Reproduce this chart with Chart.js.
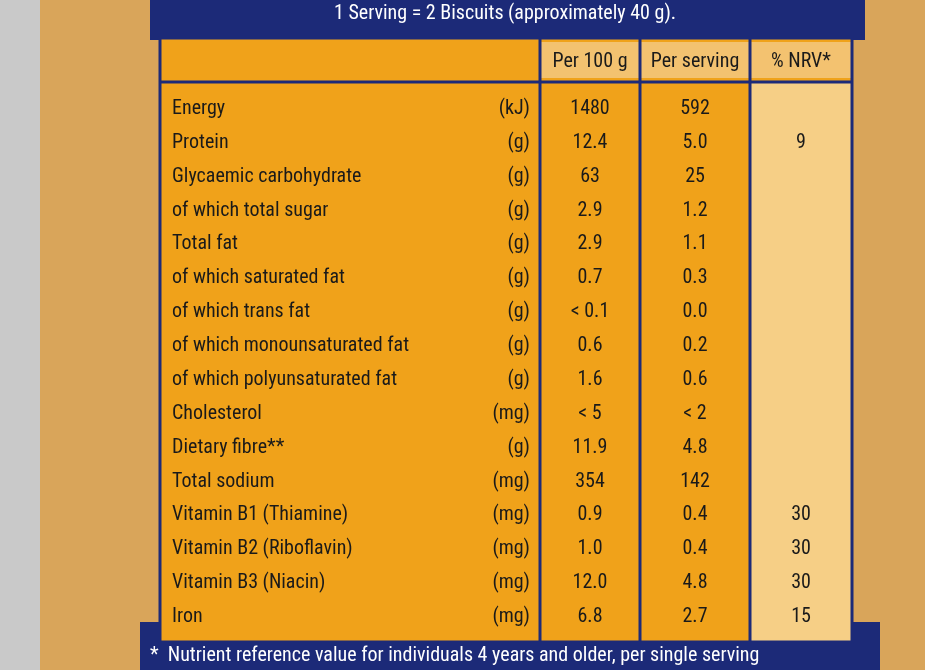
<!DOCTYPE html>
<html><head><meta charset="utf-8">
<script src="https://cdn.jsdelivr.net/npm/chart.js@4"></script>
<style>html,body{margin:0;padding:0;background:#d9a55a;}#w{width:925px;height:670px;}</style>
</head><body><div id="w"><canvas id="c" width="925" height="670"></canvas></div>
<script>
const nutrients=["Energy","Protein","Glycaemic carbohydrate","of which total sugar","Total fat","of which saturated fat","of which trans fat","of which monounsaturated fat","of which polyunsaturated fat","Cholesterol","Dietary fibre**","Total sodium","Vitamin B1 (Thiamine)","Vitamin B2 (Riboflavin)","Vitamin B3 (Niacin)","Iron"];
const units=["(kJ)","(g)","(g)","(g)","(g)","(g)","(g)","(g)","(g)","(mg)","(g)","(mg)","(mg)","(mg)","(mg)","(mg)"];
const per100=["1480","12.4","63","2.9","2.9","0.7","< 0.1","0.6","1.6","< 5","11.9","354","0.9","1.0","12.0","6.8"];
const perServing=["592","5.0","25","1.2","1.1","0.3","0.0","0.2","0.6","< 2","4.8","142","0.4","0.4","4.8","2.7"];
const nrv=["","9","","","","","","","","","","","30","30","30","15"];
const headers=["Per 100 g","Per serving","% NRV*"];
const title="1 Serving = 2 Biscuits (approximately 40 g).";
const footnote="*  Nutrient reference value for individuals 4 years and older, per single serving";
const F='"Liberation Sans Narrow","Roboto Condensed",Roboto,sans-serif';
const NAVY='#1c2a78', OR='#f0a21a', LIGHT='#f6cf86';
const X={left:160,c1:540,c2:640,c3:750,right:852};
const tablePlugin={id:'tbl',beforeDraw(ch){
 const c=ch.ctx, ys=ch.scales.y, h=ys.getPixelForValue(1)-ys.getPixelForValue(0);
 const top=ys.getPixelForValue(0)-h/2-10, bot=ys.getPixelForValue(nutrients.length-1)+h/2+8;
 c.save();
 c.fillStyle='#d9a55a';c.fillRect(0,0,925,670);
 c.fillStyle='#c9c9c9';c.fillRect(0,0,40,670);
 c.fillStyle=NAVY;c.fillRect(150,0,715,40);c.fillRect(140,622,740,48);
 c.fillStyle='#fff';c.font='20px '+F;c.textAlign='center';c.textBaseline='middle';
 c.fillText(title,505,14);
 c.textAlign='left';c.fillText(footnote,150,656);
 // table body
 c.fillStyle=OR;c.fillRect(X.left,38,X.right-X.left,bot-38);
 c.fillStyle=LIGHT;c.fillRect(X.c3,top,X.right-X.c3,bot-top);
 c.fillStyle='#f3c270';c.fillRect(X.c1,42,X.right-X.c1,top-46);
 c.strokeStyle=NAVY;c.lineWidth=3;
 c.strokeRect(X.left,38,X.right-X.left,bot-38);
 c.beginPath();c.moveTo(X.left,top);c.lineTo(X.right,top);
 [X.c1,X.c2,X.c3].forEach(x=>{c.moveTo(x,38);c.lineTo(x,bot);});c.stroke();
 c.fillStyle='#1a1a1a';c.font='20px '+F;c.textAlign='center';
 headers.forEach((t,i)=>c.fillText(t,[(X.c1+X.c2)/2,(X.c2+X.c3)/2,(X.c3+X.right)/2][i],(42+top)/2));
 nutrients.forEach((n,i)=>{const y=ys.getPixelForValue(i);
  c.textAlign='left';c.fillText(n,172,y);
  c.textAlign='right';c.fillText(units[i],530,y);
  c.textAlign='center';c.fillText(per100[i],(X.c1+X.c2)/2,y);
  c.fillText(perServing[i],(X.c2+X.c3)/2,y);
  c.fillText(nrv[i],(X.c3+X.right)/2,y);});
 c.restore();}};
new Chart(document.getElementById('c'),{type:'bar',
 data:{labels:nutrients,datasets:[{data:per100.map(()=>0),backgroundColor:'rgba(0,0,0,0)'}]},
 plugins:[tablePlugin],
 options:{responsive:false,animation:false,indexAxis:'y',
  layout:{padding:{top:92,bottom:36,left:160,right:73}},
  plugins:{legend:{display:false},tooltip:{enabled:false}},
  scales:{y:{display:false},x:{display:false}}}});
</script></body></html>
